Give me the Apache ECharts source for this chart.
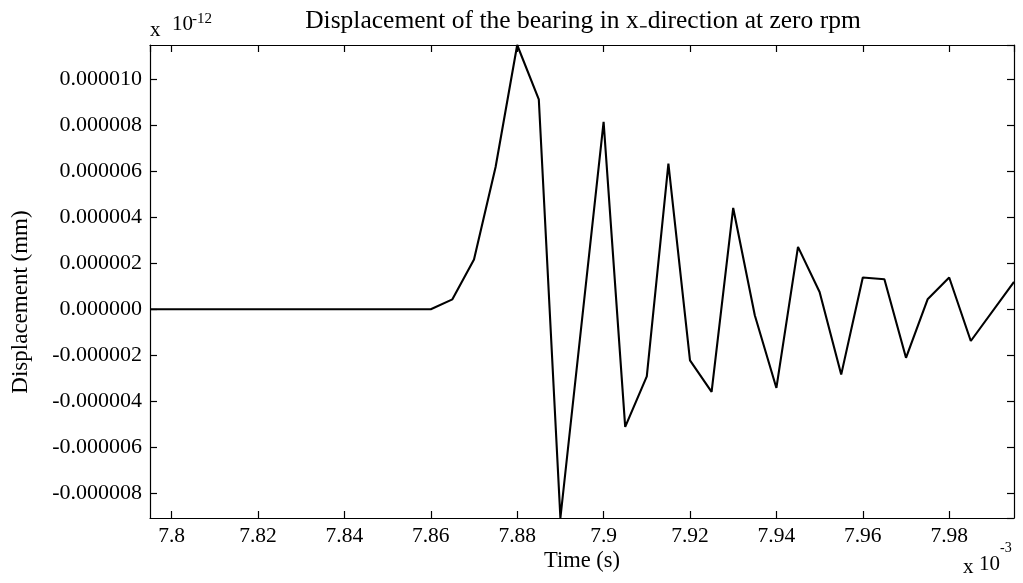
<!DOCTYPE html>
<html>
<head>
<meta charset="utf-8">
<script src="https://cdn.jsdelivr.net/npm/echarts@6/dist/echarts.min.js"></script>
<style>
  html, body { margin: 0; padding: 0; background: #fff; }
  #chart { width: 1023px; height: 583px; }
</style>
</head>
<body>
<div id="chart"></div>
<script>
// Time samples (x 10^-3 s) and bearing displacement (x 10^-6 of the axis units)
const timeMs = [7.795, 7.86, 7.865, 7.87, 7.875, 7.88, 7.885, 7.89, 7.9, 7.905, 7.91, 7.915,
  7.92, 7.925, 7.93, 7.935, 7.94, 7.945, 7.95, 7.955, 7.96, 7.965, 7.97, 7.975, 7.98, 7.985, 7.995];
const dispMicro = [0, 0, 0.43, 2.16, 6.18, 11.48, 9.12, -9.07, 8.14, -5.11, -2.92, 6.33,
  -2.22, -3.59, 4.40, -0.26, -3.42, 2.71, 0.75, -2.84, 1.38, 1.30, -2.11, 0.43, 1.38, -1.38, 1.19];

const titleText = 'Displacement of the bearing in x\u208Bdirection at zero rpm';
const xName = 'Time (s)';
const yName = 'Displacement (mm)';

const FONT = '"Liberation Serif", "Times New Roman", serif';
const points = timeMs.map((t, i) => [t, dispMicro[i]]);

const chart = echarts.init(document.getElementById('chart'), null, { renderer: 'canvas' });

const frameLine = { show: true, onZero: false, lineStyle: { color: '#000', width: 1.2 } };
const tickIn = { show: true, inside: true, length: 7, lineStyle: { color: '#000', width: 1.2 } };

chart.setOption({
  backgroundColor: '#fff',
  animation: false,
  title: {
    text: titleText,
    left: 578, top: 3, textAlign: 'center',
    textStyle: { fontFamily: FONT, fontSize: 25.5, fontWeight: 'normal', color: '#000' }
  },
  grid: { left: 150, top: 45, right: 9, bottom: 65, containLabel: false },
  xAxis: [
    {
      type: 'value', position: 'bottom', min: 'dataMin', max: 'dataMax', splitNumber: 10,
      axisLine: frameLine, axisTick: tickIn, splitLine: { show: false },
      axisLabel: {
        showMinLabel: false, showMaxLabel: false, margin: 7,
        fontFamily: FONT, fontSize: 21.5, color: '#000',
        formatter: v => String(+v.toFixed(3))
      }
    },
    {
      type: 'value', position: 'top', min: 'dataMin', max: 'dataMax', splitNumber: 10,
      axisLine: frameLine, axisTick: tickIn, splitLine: { show: false },
      axisLabel: { show: false }
    }
  ],
  yAxis: [
    {
      type: 'value', position: 'left', min: 'dataMin', max: 'dataMax', splitNumber: 10,
      axisLine: frameLine, axisTick: tickIn, splitLine: { show: false },
      axisLabel: {
        showMinLabel: false, showMaxLabel: false, margin: 8,
        fontFamily: FONT, fontSize: 22, color: '#000',
        formatter: v => (v * 1e-6).toFixed(6)
      }
    },
    {
      type: 'value', position: 'right', min: 'dataMin', max: 'dataMax', splitNumber: 10,
      axisLine: frameLine, axisTick: tickIn, splitLine: { show: false },
      axisLabel: { show: false }
    }
  ],
  series: [
    {
      type: 'line', xAxisIndex: 0, yAxisIndex: 0, data: points,
      showSymbol: false, clip: true,
      lineStyle: { color: '#000', width: 2.1 }
    },
    {
      // invisible companion so the mirrored axes share the same extent
      type: 'line', xAxisIndex: 1, yAxisIndex: 1, data: points,
      showSymbol: false, lineStyle: { opacity: 0 }, silent: true
    }
  ],
  graphic: [
    { type: 'text', left: 150, top: 20, style: { text: 'x', font: '21px ' + FONT, fill: '#000' } },
    { type: 'text', left: 172, top: 14, style: { text: '10', font: '21px ' + FONT, fill: '#000' } },
    { type: 'text', left: 192, top: 12, style: { text: '-12', font: '15px ' + FONT, fill: '#000' } },
    { type: 'text', left: 963, top: 557, style: { text: 'x', font: '21px ' + FONT, fill: '#000' } },
    { type: 'text', left: 979, top: 554, style: { text: '10', font: '21px ' + FONT, fill: '#000' } },
    { type: 'text', left: 1000, top: 541, style: { text: '-3', font: '14px ' + FONT, fill: '#000' } },
    {
      type: 'text', x: 582, y: 561,
      style: { text: xName, font: '22.5px ' + FONT, fill: '#000', align: 'center', verticalAlign: 'middle' }
    },
    {
      type: 'text', x: 21, y: 302, rotation: Math.PI / 2,
      style: { text: yName, font: '23px ' + FONT, fill: '#000', align: 'center', verticalAlign: 'middle' }
    }
  ]
});
</script>
</body>
</html>
